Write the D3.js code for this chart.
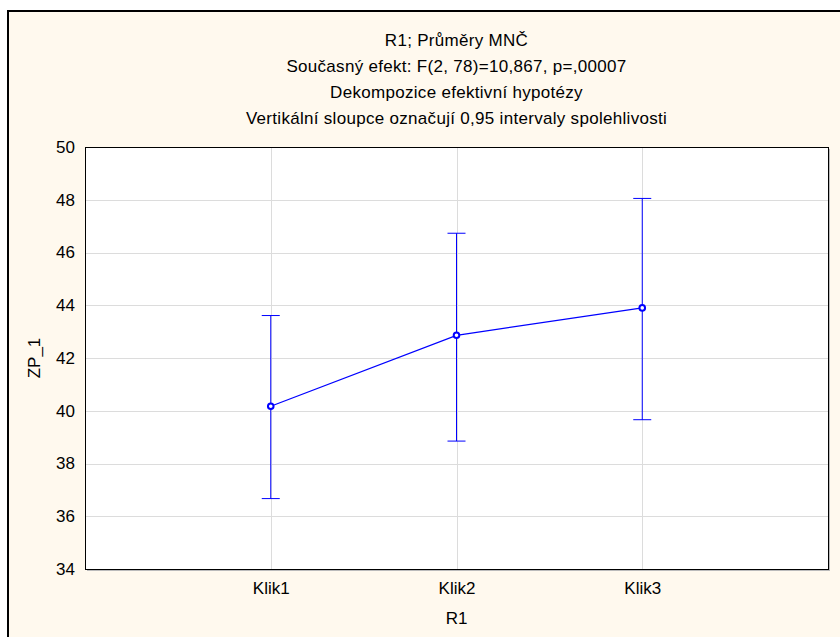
<!DOCTYPE html>
<html>
<head>
<meta charset="utf-8">
<script src="https://cdnjs.cloudflare.com/ajax/libs/d3/7.8.5/d3.min.js"></script>
<style>
  body { margin: 0; background: #fff; }
  text { font-family: "Liberation Sans", Arial, sans-serif; fill: #000; }
</style>
</head>
<body>
<svg width="840" height="637"></svg>
<script>
// data
var categories = ["Klik1", "Klik2", "Klik3"];
var means = [40.17, 42.86, 43.90];
var lower = [36.67, 38.85, 39.66];
var upper = [43.61, 46.73, 48.05];
var yTicks = [34, 36, 38, 40, 42, 44, 46, 48, 50];
var titles = [
  "R1; Průměry MNČ",
  "Současný efekt: F(2, 78)=10,867, p=,00007",
  "Dekompozice efektivní hypotézy",
  "Vertikální sloupce označují 0,95 intervaly spolehlivosti"
];

var fontSize = "17px";
var svg = d3.select("svg");

// outer frame (runs off the right and bottom edge)
svg.append("rect")
    .attr("x", 8).attr("y", 11)
    .attr("width", 840).attr("height", 640)
    .style("fill", "#fff9ee")
    .style("stroke", "#000")
    .style("stroke-width", 2);

var margin = {top: 147, right: 12, bottom: 68, left: 85},
    width = 840 - margin.left - margin.right,
    height = 637 - margin.top - margin.bottom;

var g = svg.append("g")
    .attr("transform", "translate(" + margin.left + "," + margin.top + ")");

var x = d3.scaleLinear().domain([0, categories.length + 1]).range([0, width]);
var y = d3.scaleLinear().domain([34, 50]).range([height, 0]);

// plot area with a faint shadow
g.append("rect")
    .attr("x", 2).attr("y", 2)
    .attr("width", width).attr("height", height)
    .style("fill", "#bbb");
g.append("rect")
    .attr("width", width).attr("height", height)
    .style("fill", "#fff");

// grid
g.selectAll(".hgrid")
    .data(yTicks.slice(1, -1))
  .enter().append("line")
    .attr("x1", 0).attr("x2", width)
    .attr("y1", function(d) { return Math.round(y(d)) + 0.5; })
    .attr("y2", function(d) { return Math.round(y(d)) + 0.5; })
    .style("stroke", "#dcdcdc");

g.selectAll(".vgrid")
    .data(categories)
  .enter().append("line")
    .attr("x1", function(d, i) { return Math.round(x(i + 1)) + 0.5; })
    .attr("x2", function(d, i) { return Math.round(x(i + 1)) + 0.5; })
    .attr("y1", 0).attr("y2", height)
    .style("stroke", "#dcdcdc");

// axes
var yAxis = g.append("g")
    .call(d3.axisLeft(y).tickValues(yTicks).tickSize(0).tickPadding(10));
yAxis.select(".domain").remove();
yAxis.selectAll("text").style("font-size", fontSize);

var xAxis = g.append("g")
    .attr("transform", "translate(0," + height + ")")
    .call(d3.axisBottom(x).tickValues([1, 2, 3])
      .tickFormat(function(d) { return categories[d - 1]; })
      .tickSize(0).tickPadding(13));
xAxis.select(".domain").remove();
xAxis.selectAll("text").style("font-size", fontSize);

// plot frame on top of grid
g.append("rect")
    .attr("x", 0.5).attr("y", 0.5)
    .attr("width", width).attr("height", height)
    .style("fill", "none")
    .style("stroke", "#000");

// error bars
var capW = 9;
var bars = g.selectAll(".err")
    .data(categories)
  .enter().append("g")
    .style("stroke", "#0000ff")
    .style("stroke-width", 1);
bars.append("line")
    .attr("x1", function(d, i) { return x(i + 1); })
    .attr("x2", function(d, i) { return x(i + 1); })
    .attr("y1", function(d, i) { return y(lower[i]); })
    .attr("y2", function(d, i) { return y(upper[i]); });
bars.append("line")
    .attr("x1", function(d, i) { return x(i + 1) - capW; })
    .attr("x2", function(d, i) { return x(i + 1) + capW; })
    .attr("y1", function(d, i) { return y(upper[i]); })
    .attr("y2", function(d, i) { return y(upper[i]); });
bars.append("line")
    .attr("x1", function(d, i) { return x(i + 1) - capW; })
    .attr("x2", function(d, i) { return x(i + 1) + capW; })
    .attr("y1", function(d, i) { return y(lower[i]); })
    .attr("y2", function(d, i) { return y(lower[i]); });

// mean line
var line = d3.line()
    .x(function(d, i) { return x(i + 1); })
    .y(function(d) { return y(d); });
g.append("path")
    .datum(means)
    .attr("d", line)
    .style("fill", "none")
    .style("stroke", "#0000ff")
    .style("stroke-width", 1.2);

g.selectAll(".pt")
    .data(means)
  .enter().append("circle")
    .attr("cx", function(d, i) { return x(i + 1); })
    .attr("cy", function(d) { return y(d); })
    .attr("r", 2.8)
    .style("fill", "#fff")
    .style("stroke", "#0000ff")
    .style("stroke-width", 2);

// titles
var cx = margin.left + width / 2;
svg.selectAll(".title")
    .data(titles)
  .enter().append("text")
    .attr("x", cx)
    .attr("y", function(d, i) { return 46 + i * 26; })
    .attr("text-anchor", "middle")
    .style("font-size", fontSize)
    .style("letter-spacing", "0.3px")
    .text(function(d) { return d; });

// axis titles
svg.append("text")
    .attr("x", cx).attr("y", 624)
    .attr("text-anchor", "middle")
    .style("font-size", fontSize)
    .text("R1");

svg.append("text")
    .attr("transform", "translate(40," + (margin.top + height / 2) + ") rotate(-90)")
    .attr("text-anchor", "middle")
    .style("font-size", fontSize)
    .text("ZP_1");
</script>
</body>
</html>
